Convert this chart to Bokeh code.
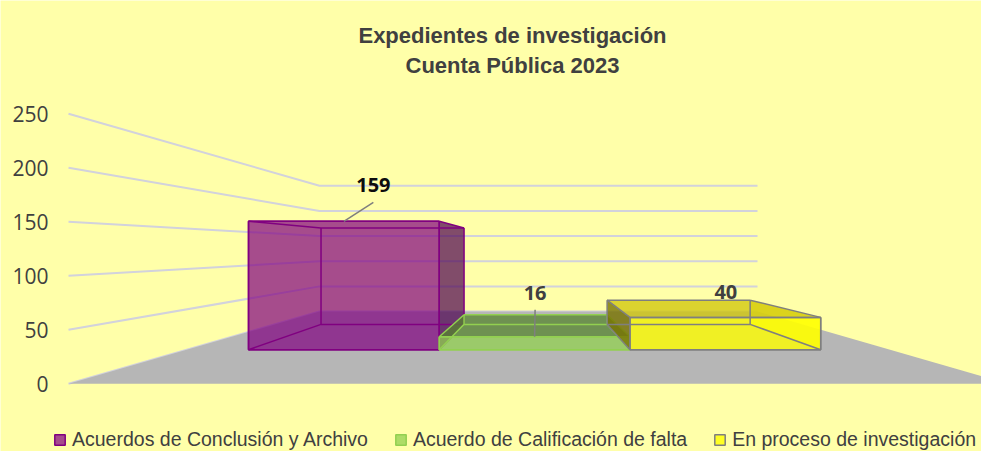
import numpy as np
from bokeh.plotting import figure
from bokeh.models import Range1d, Legend, LegendItem
from bokeh.core.properties import value
from bokeh.embed import file_html
from bokeh.resources import INLINE

# ---------------- data ----------------
series_names = ["Acuerdos de Conclusión y Archivo",
                "Acuerdo de Calificación de falta",
                "En proceso de investigación"]
counts = [159, 16, 40]
count_labels = ["159", "16", "40"]
y_ticks = [0, 50, 100, 150, 200, 250]
y_tick_labels = ["0", "50", "100", "150", "200", "250"]
title_lines = ["Expedientes de investigación", "Cuenta Pública 2023"]

# ---------------- styles ----------------
BG = "#FFFFA9"
FLOOR = "#B6B6B6"
GRID = "#D2D2DC"
TEXT = "#404040"
fill_colors = ["#800080", "#92D050", "#FFFF00"]
side_colors = ["#4B0050", "#5A8C28", "#787300"]
top_colors = ["#800080", "#55842F", "#D2C810"]
edge_colors = ["#800080", "#92D050", "#7F7F7F"]
face_alpha = [0.7, 0.75, 0.8]
far_alpha = [0.0, 0.0, 0.55]    # far (hidden) side seen through the bar
label_colors = ["#0D0D0D", TEXT, TEXT]
label_dx = [29.5, 0.5, 0.5]     # px offset of data label from bar front-top centre
label_dy = [-36, -44, -25]
leader = [True, True, False]

# ---------------- 3-D layout (perspective of a 3-D clustered column) ----------------
W, H = 981, 451
PX_PER_SLOT = 255.0      # px per column slot on the front plane
PX_PER_COUNT = 1.08      # px per count on the front plane
SLOT0_PX = 150.3         # page x of slot 0 on the front plane
ZERO_PX = 383.3          # page y of count 0 on the front plane


def to_x(px):
    return (px - SLOT0_PX) / PX_PER_SLOT


def to_y(py):
    return (ZERO_PX - py) / PX_PER_COUNT


VANISH_X = to_x(538)
HORIZON = to_y(248)
DEPTH_K = 1.146
FLOOR_X0 = to_x(68)
FLOOR_X1 = to_x(1008)
BAR_Z0, BAR_Z1 = 0.294, 0.683
AXIS_LABEL_RIGHT = to_x(48)


def proj(x, y, z):
    s = 1.0 / (1.0 + DEPTH_K * z)
    return VANISH_X + (x - VANISH_X) * s, HORIZON + (y - HORIZON) * s


p = figure(width=W, height=H, output_backend="svg", toolbar_location=None,
           x_axis_type=None, y_axis_type=None,
           x_range=Range1d(to_x(0), to_x(W)),
           y_range=Range1d(to_y(H), to_y(0)),
           min_border_left=0, min_border_right=0,
           min_border_top=0, min_border_bottom=0)
p.background_fill_color = BG
p.border_fill_color = BG
p.outline_line_color = None
p.grid.grid_line_color = None

# value axis labels on the front plane
p.text([AXIS_LABEL_RIGHT] * len(y_ticks), y_ticks, text=y_tick_labels,
       text_align="right", text_baseline="middle",
       text_font=value("Open Sans"), text_font_size="21px", text_color=TEXT)

# walls' gridlines (left wall + back wall)
gx, gy = [], []
for t in y_ticks:
    pts = [proj(FLOOR_X0, t, 0), proj(FLOOR_X0, t, 1), proj(FLOOR_X1, t, 1)]
    gx.append([q[0] for q in pts])
    gy.append([q[1] for q in pts])
p.multi_line(gx, gy, line_color=GRID, line_width=2)

# floor
fl = [proj(FLOOR_X0, 0, 0), proj(FLOOR_X1, 0, 0), proj(FLOOR_X1, 0, 1), proj(FLOOR_X0, 0, 1)]
p.patch([q[0] for q in fl], [q[1] for q in fl], fill_color=FLOOR, line_color=None)

front_renderers = []
lab_x, lab_y = [], []
for i, c in enumerate(counts):
    xs_ = (i, i + 1)
    ys_ = (0, c)
    zs_ = (BAR_Z0, BAR_Z1)
    C = {(a, b, d): proj(xs_[a], ys_[b], zs_[d]) for a in (0, 1) for b in (0, 1) for d in (0, 1)}

    def quad(keys):
        return [C[k][0] for k in keys], [C[k][1] for k in keys]

    right_q = quad([(1, 0, 0), (1, 1, 0), (1, 1, 1), (1, 0, 1)])
    left_q = quad([(0, 0, 0), (0, 1, 0), (0, 1, 1), (0, 0, 1)])

    # far side, seen through the transparent bar
    if far_alpha[i] > 0:
        far = left_q if xs_[1] < VANISH_X else right_q
        p.patch(far[0], far[1], fill_color=fill_colors[i], fill_alpha=far_alpha[i], line_color=None)

    fx, fy, fc = [], [], []
    if xs_[1] < VANISH_X:      # right side faces the viewer
        fx.append(right_q[0]); fy.append(right_q[1]); fc.append(side_colors[i])
    if xs_[0] > VANISH_X:      # left side faces the viewer
        fx.append(left_q[0]); fy.append(left_q[1]); fc.append(side_colors[i])
    if c < HORIZON:            # top seen from above
        qx, qy = quad([(0, 1, 0), (1, 1, 0), (1, 1, 1), (0, 1, 1)])
        fx.append(qx); fy.append(qy); fc.append(top_colors[i])
    if fx:
        p.patches(fx, fy, fill_color=fc, fill_alpha=face_alpha[i], line_color=None)

    qx, qy = quad([(0, 0, 0), (1, 0, 0), (1, 1, 0), (0, 1, 0)])
    r = p.patch(qx, qy, fill_color=fill_colors[i], fill_alpha=face_alpha[i],
                line_color=edge_colors[i], line_width=1.5)
    front_renderers.append(r)

    ex, ey = [], []
    for a in (0, 1):
        for b in (0, 1):
            for d in (0, 1):
                for nb in ((1 - a, b, d), (a, 1 - b, d), (a, b, 1 - d)):
                    if (a, b, d) < nb:
                        ex.append([C[(a, b, d)][0], C[nb][0]])
                        ey.append([C[(a, b, d)][1], C[nb][1]])
    p.multi_line(ex, ey, line_color=edge_colors[i], line_width=1.5)

    axx, axy = proj(i + 0.5, c, BAR_Z0)
    lx = axx + label_dx[i] / PX_PER_SLOT
    ly = axy - label_dy[i] / PX_PER_COUNT
    lab_x.append(lx)
    lab_y.append(ly)
    if leader[i]:
        p.line([axx, lx], [axy, ly - 17 / PX_PER_COUNT], line_color="#7F7F7F", line_width=1.5)

p.text(lab_x, lab_y, text=count_labels, text_align="center", text_baseline="middle",
       text_font=value("Open Sans"), text_font_style="bold", text_font_size="20px",
       text_color=label_colors)

# title
p.text([to_x(512)] * 2, [to_y(35), to_y(65)], text=title_lines,
       text_align="center", text_baseline="alphabetic",
       text_font=value("Liberation Sans"), text_font_style="bold",
       text_font_size="22px", text_color=TEXT)

legend = Legend(items=[LegendItem(label=n, renderers=[r]) for n, r in zip(series_names, front_renderers)],
                location=(53, 0), orientation="horizontal",
                glyph_width=13, glyph_height=13, label_standoff=6, spacing=26,
                padding=0, margin=0, background_fill_alpha=0, border_line_alpha=0,
                label_text_font="Liberation Sans", label_text_font_size="19.5px",
                label_text_color=TEXT)
p.add_layout(legend)

open("out.html", "w").write(file_html(p, INLINE))
